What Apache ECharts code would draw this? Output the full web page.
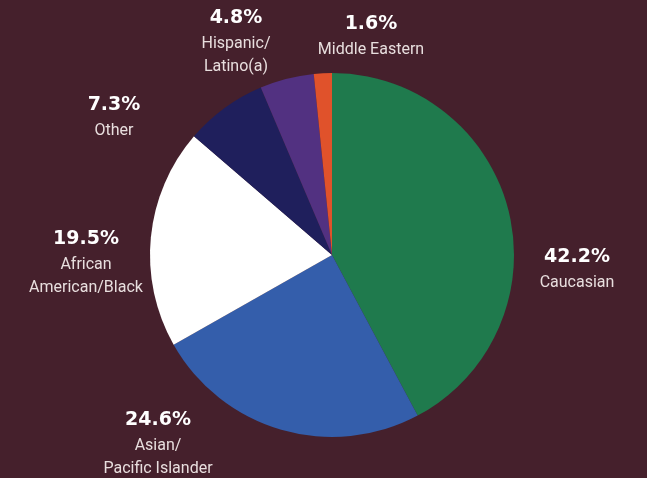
<!DOCTYPE html>
<html>
<head>
<meta charset="utf-8">
<script src="https://cdn.jsdelivr.net/npm/echarts@6/dist/echarts.min.js"></script>
<style>
html,body{margin:0;padding:0;background:#45202c;}
#c{width:647px;height:478px;}
</style>
</head>
<body>
<div id="c"></div>
<script>
const categories = ['Caucasian', 'Asian/\nPacific Islander', 'African\nAmerican/Black', 'Other', 'Hispanic/\nLatino(a)', 'Middle Eastern'];
const values = [42.2, 24.6, 19.5, 7.3, 4.8, 1.6];
const colors = ['#1f7a4d', '#345eab', '#ffffff', '#1f1f5c', '#523181', '#e0522b'];

// label anchor points (top-center of each label block)
const labelAnchors = [[577, 244], [158, 407], [86, 226], [114, 92], [236, 5], [371, 11]];

const chart = echarts.init(document.getElementById('c'), null, {renderer: 'canvas'});
chart.setOption({
  backgroundColor: '#45202c',
  animation: false,
  series: [{
    type: 'pie',
    center: [332, 255],
    radius: [0, 182],
    startAngle: 90,
    clockwise: true,
    data: categories.map((c, i) => ({name: c, value: values[i], itemStyle: {color: colors[i]}})),
    label: {
      show: true,
      position: 'outside',
      overflow: 'none',
      alignTo: 'none',
      formatter: p => '{p|' + p.value.toFixed(1) + '%}\n' + p.name.split('\n').map(s => '{n|' + s + '}').join('\n'),
      rich: {
        p: {fontFamily: 'DejaVu Sans', fontWeight: 900, fontSize: 19, color: '#ffffff', lineHeight: 27, align: 'center'},
        n: {fontFamily: 'Roboto', fontSize: 16, color: '#e8dede', lineHeight: 23, align: 'center'}
      }
    },
    labelLine: {show: false},
    labelLayout: p => ({x: labelAnchors[p.dataIndex][0], y: labelAnchors[p.dataIndex][1], align: 'center', verticalAlign: 'top', hideOverlap: false, moveOverlap: null}),
    emphasis: {disabled: true}
  }]
});
</script>
</body>
</html>
